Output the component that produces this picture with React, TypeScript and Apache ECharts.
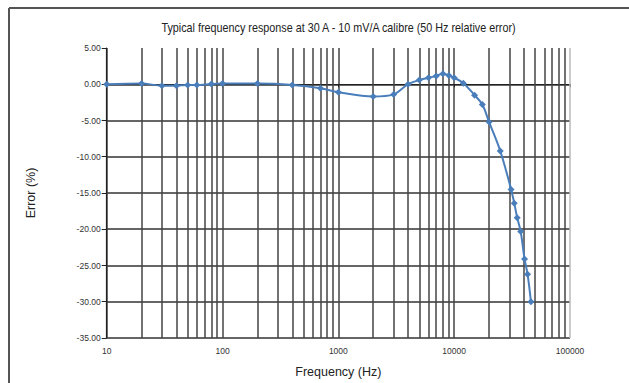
import React, { useEffect, useRef } from "react";
import * as echarts from "echarts";

const titleText = "Typical frequency response at 30 A - 10 mV/A calibre (50 Hz relative error)";
const xName = "Frequency (Hz)";
const yName = "Error (%)";

const frequencies = [
  10, 20, 30, 40, 50, 60, 80, 100, 200, 400, 700, 1000, 2000, 3000, 4000, 5000,
  6000, 7000, 8000, 9000, 10000, 12000, 15000, 17500, 20000, 25000, 31000,
  33000, 35000, 37500, 40500, 43000, 46000,
];
const errors = [
  0.0, 0.1, -0.2, -0.2, -0.1, -0.1, 0.05, 0.1, 0.1, -0.1, -0.55, -1.1, -1.7,
  -1.4, 0.0, 0.6, 0.9, 1.15, 1.45, 1.2, 0.9, 0.15, -1.5, -2.8, -5.2, -9.2,
  -14.5, -16.4, -18.4, -20.3, -24.1, -26.2, -30.0,
];

const decades = [10, 100, 1000, 10000];
const minorMultipliers = [2, 3, 4, 5, 6, 7, 8, 9];
const xMin = 10;
const xMax = 100000;
const yMin = -35;
const yMax = 5;
const yStep = 5;

const FONT = "Liberation Sans";

export default function App() {
  const ref = useRef<HTMLDivElement>(null);

  useEffect(() => {
    if (!ref.current) return;
    const chart = echarts.init(ref.current, null, { renderer: "svg" });
    const minorLines = decades.flatMap((d) => minorMultipliers.map((m) => ({ xAxis: m * d })));

    chart.setOption({
      animation: false,
      backgroundColor: "#ffffff",
      grid: { left: 106.7, right: 59, top: 48, bottom: 44.7, containLabel: false },
      xAxis: {
        type: "log",
        logBase: 10,
        min: xMin,
        max: xMax,
        name: xName,
        nameLocation: "middle",
        nameGap: 27,
        nameTextStyle: { fontFamily: FONT, fontSize: 12.5, color: "#222" },
        axisLine: { show: true, lineStyle: { color: "#222", width: 1.2 } },
        axisTick: { show: true, length: 3, lineStyle: { color: "#222" } },
        axisLabel: {
          fontFamily: FONT,
          fontSize: 8.5,
          color: "#333",
          margin: 8,
          formatter: (v: number) => String(Math.round(v)),
        },
        splitLine: {
          show: true,
          showMaxLine: false,
          lineStyle: { color: "#444", width: 1.5 },
        },
        minorTick: { show: false },
      },
      yAxis: {
        type: "value",
        min: yMin,
        max: yMax,
        interval: yStep,
        name: yName,
        nameLocation: "middle",
        nameRotate: 90,
        nameGap: 69,
        nameTextStyle: { fontFamily: FONT, fontSize: 12.5, color: "#222" },
        axisLine: { show: true, lineStyle: { color: "#222", width: 1.2 } },
        axisTick: { show: true, inside: false, length: 5, lineStyle: { color: "#222" } },
        axisLabel: {
          fontFamily: FONT,
          fontSize: 8.5,
          color: "#333",
          margin: 6,
          formatter: (v: number) => v.toFixed(2),
        },
        splitLine: {
          show: true,
          showMaxLine: false,
          lineStyle: { color: "#333", width: 1.5 },
        },
      },
      graphic: [
        { type: "line", shape: { x1: 9, y1: 8, x2: 629, y2: 8 }, style: { stroke: "#555", lineWidth: 2 } },
        { type: "line", shape: { x1: 9, y1: 8, x2: 9, y2: 383 }, style: { stroke: "#555", lineWidth: 2 } },
        {
          type: "text",
          x: 338.5,
          y: 28,
          scaleX: 0.83,
          style: {
            text: titleText,
            fontFamily: FONT,
            fontSize: 13,
            fill: "#222",
            textAlign: "center",
            textVerticalAlign: "middle",
            align: "center",
            verticalAlign: "middle",
          },
        },
      ],
      series: [
        {
          type: "line",
          data: [],
          z: 1,
          silent: true,
          markLine: {
            silent: true,
            symbol: ["none", "none"],
            label: { show: false },
            lineStyle: { color: "#444", width: 1.5, type: "solid" },
            emphasis: { disabled: true },
            data: [...minorLines, { xAxis: xMax, lineStyle: { color: "#bbb", width: 1.5, type: "solid" } }],
          },
        },
        {
          type: "line",
          z: 5,
          smooth: 0.35,
          symbol: "diamond",
          symbolSize: 7,
          data: frequencies.map((f, i) => [f, errors[i]]),
          itemStyle: { color: "#4a7ebb" },
          lineStyle: { color: "#4a7ebb", width: 2 },
        },
      ],
    });
    return () => chart.dispose();
  }, []);

  return (
    <div
      ref={ref}
      style={{ position: "absolute", left: 0, top: 0, width: 629, height: 383 }}
    />
  );
}
